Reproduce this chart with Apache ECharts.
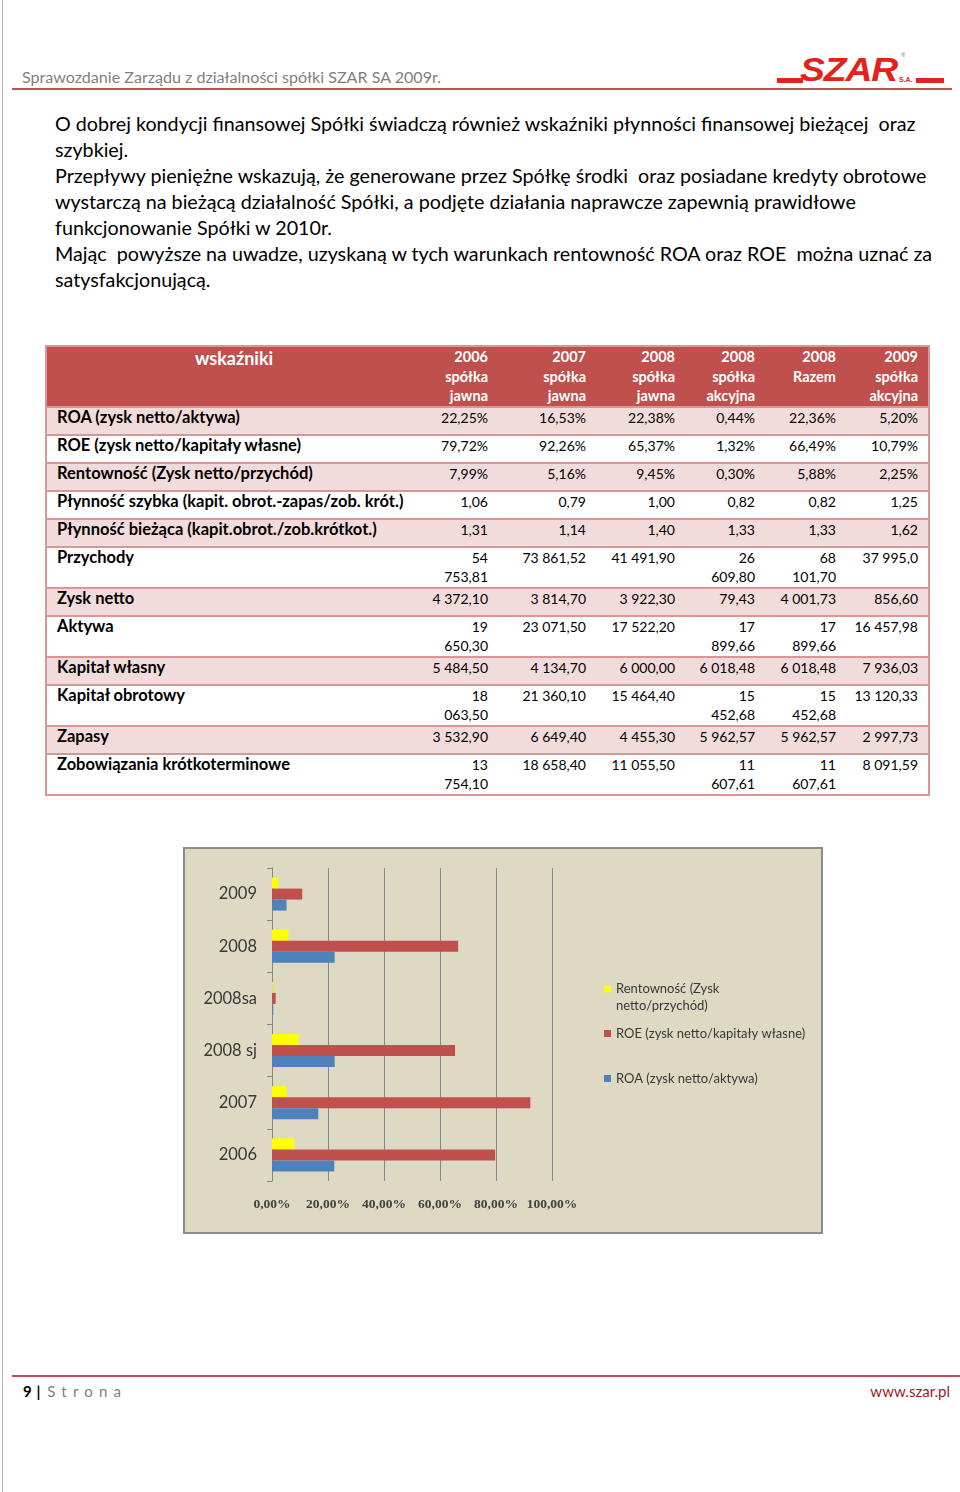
<!DOCTYPE html>
<html lang="pl">
<head>
<meta charset="utf-8">
<script src="https://cdn.jsdelivr.net/npm/echarts/dist/echarts.min.js"></script>
<style>
  html, body { margin:0; padding:0; background:#fff; }
  body { width:960px; height:1492px; position:relative; overflow:hidden; font-family:Lato, "Noto Sans", sans-serif; }
  .abs { position:absolute; }
  #pageEdge { left:2px; top:0; width:1px; height:1492px; background:#b4b4b4; }
  #hdrText { left:22px; top:67px; font-size:16px; line-height:20px; color:#7f7f7f; white-space:nowrap; }
  #hdrLine { left:12px; top:88px; width:940px; height:2px; background:#c0504d; }
  #para { left:55px; top:111px; font-size:18px; line-height:26px; color:#000; white-space:pre; }
  #para span { display:inline-block; }
  #tbl { position:absolute; left:45px; top:345px; width:883px; border-collapse:collapse; table-layout:fixed; font-family:Lato, sans-serif; border:2px solid #d99694; }
  #tbl th { background:#c0504d; color:#fff; font-weight:bold; font-size:14.5px; line-height:19.5px; text-align:right; padding:0 7px 0 3px; vertical-align:top; }
  #tbl th.first { text-align:center; font-size:18px; padding-top:2px; }
  #tbl th.last, #tbl td.last { padding-right:10px; }
  #tbl td { font-size:14px; line-height:19px; padding:0 7px 7px 3px; text-align:right; vertical-align:top; border-top:2px solid #d99694; color:#000; }
  #tbl td.lab { text-align:left; padding-left:10px; font-weight:bold; font-size:16.5px; }
  #tbl td.narrow { padding-left:13px; }
  #tbl td.narrow2 { padding-left:14px; }
  #tbl tr.pink td { background:#f2dcdb; }
  #chartBox { left:183px; top:847px; width:636px; height:383px; border:2px solid #8c8c8c; background:#ddd9c3; }
  #ftrLine { left:12px; top:1375px; width:948px; height:2px; background:#c0504d; }
  #ftrLeft { left:23px; top:1381px; font-size:15px; line-height:20px; white-space:nowrap; }
  #ftrRight { right:10px; top:1381px; font-size:15px; line-height:20px; color:#9e1b22; }
</style>
</head>
<body>
<div id="pageEdge" class="abs"></div>
<div id="hdrText" class="abs">Sprawozdanie Zarządu z działalności spółki SZAR SA 2009r.</div>
<div id="logo" class="abs" style="left:770px;top:50px;width:180px;height:40px;">
  <div class="abs" style="left:7px;top:28px;width:26px;height:5px;background:#e2231a;"></div>
  <div class="abs" style="left:30px;top:3px;font:italic bold 33px 'Liberation Sans',sans-serif;line-height:33px;color:#e2231a;transform:scaleX(1.13);transform-origin:left top;letter-spacing:-1px;">SZAR</div>
  <div class="abs" style="left:131px;top:2px;font:bold 6px/6px 'Liberation Sans',sans-serif;color:#999;">®</div>
  <div class="abs" style="left:129px;top:26px;font:bold 7px 'Liberation Sans',sans-serif;color:#e2231a;">S.A.</div>
  <div class="abs" style="left:146px;top:28px;width:28px;height:5px;background:#e2231a;"></div>
</div>
<div id="hdrLine" class="abs"></div>

<div id="para" class="abs"></div>

<table id="tbl"></table>

<div id="chartBox" class="abs"></div>

<div id="ftrLine" class="abs"></div>
<div id="ftrLeft" class="abs"><b>9</b> <b style="margin-left:1px;">|</b> <span style="color:#7f7f7f;letter-spacing:6.2px;margin-left:3px;">Strona</span></div>
<div id="ftrRight" class="abs">www.szar.pl</div>

<script>
// ---------- text ----------
const paragraphLines = [
  "O dobrej kondycji finansowej Spółki świadczą również wskaźniki płynności finansowej bieżącej  oraz",
  "szybkiej.",
  "Przepływy pieniężne wskazują, że generowane przez Spółkę środki  oraz posiadane kredyty obrotowe",
  "wystarczą na bieżącą działalność Spółki, a podjęte działania naprawcze zapewnią prawidłowe",
  "funkcjonowanie Spółki w 2010r.",
  "Mając  powyższe na uwadze, uzyskaną w tych warunkach rentowność ROA oraz ROE  można uznać za",
  "satysfakcjonującą."
];

// ---------- table data ----------
const tableHeaderFirst = "wskaźniki";
const tableColumns = [
  ["2006", "spółka", "jawna"],
  ["2007", "spółka", "jawna"],
  ["2008", "spółka", "jawna"],
  ["2008", "spółka", "akcyjna"],
  ["2008", "Razem", ""],
  ["2009", "spółka", "akcyjna"]
];
const rowLabels = [
  "ROA (zysk netto/aktywa)",
  "ROE (zysk netto/kapitały własne)",
  "Rentowność (Zysk netto/przychód)",
  "Płynność szybka (kapit. obrot.-zapas/zob. krót.)",
  "Płynność bieżąca (kapit.obrot./zob.krótkot.)",
  "Przychody",
  "Zysk netto",
  "Aktywa",
  "Kapitał własny",
  "Kapitał obrotowy",
  "Zapasy",
  "Zobowiązania krótkoterminowe"
];
const rowROA        = ["22,25%", "16,53%", "22,38%", "0,44%", "22,36%", "5,20%"];
const rowROE        = ["79,72%", "92,26%", "65,37%", "1,32%", "66,49%", "10,79%"];
const rowRent       = ["7,99%", "5,16%", "9,45%", "0,30%", "5,88%", "2,25%"];
const rowQuick      = ["1,06", "0,79", "1,00", "0,82", "0,82", "1,25"];
const rowCurrent    = ["1,31", "1,14", "1,40", "1,33", "1,33", "1,62"];
const rowRevenue    = ["54 753,81", "73 861,52", "41 491,90", "26 609,80", "68 101,70", "37 995,0"];
const rowNetProfit  = ["4 372,10", "3 814,70", "3 922,30", "79,43", "4 001,73", "856,60"];
const rowAssets     = ["19 650,30", "23 071,50", "17 522,20", "17 899,66", "17 899,66", "16 457,98"];
const rowEquity     = ["5 484,50", "4 134,70", "6 000,00", "6 018,48", "6 018,48", "7 936,03"];
const rowWorkCap    = ["18 063,50", "21 360,10", "15 464,40", "15 452,68", "15 452,68", "13 120,33"];
const rowInventory  = ["3 532,90", "6 649,40", "4 455,30", "5 962,57", "5 962,57", "2 997,73"];
const rowLiabil     = ["13 754,10", "18 658,40", "11 055,50", "11 607,61", "11 607,61", "8 091,59"];
const tableRows = [rowROA, rowROE, rowRent, rowQuick, rowCurrent, rowRevenue, rowNetProfit,
                   rowAssets, rowEquity, rowWorkCap, rowInventory, rowLiabil];

// ---------- chart data ----------
const chartCategories = ["2006", "2007", "2008 sj", "2008sa", "2008", "2009"];
const seriesRentName = "Rentowność (Zysk netto/przychód)";
const seriesROEName  = "ROE (zysk netto/kapitały własne)";
const seriesROAName  = "ROA (zysk netto/aktywa)";
const rentValues = [7.99, 5.16, 9.45, 0.30, 5.88, 2.25];
const roeValues  = [79.72, 92.26, 65.37, 1.32, 66.49, 10.79];
const roaValues  = [22.25, 16.53, 22.38, 0.44, 22.36, 5.20];
const xTickValues = [0, 20, 40, 60, 80, 100];

// ---------- build paragraph ----------
const para = document.getElementById('para');
paragraphLines.forEach((l, i) => {
  const s = document.createElement('span');
  s.textContent = l;
  para.appendChild(s);
  if (i < paragraphLines.length - 1) para.appendChild(document.createElement('br'));
});
(function () {
  const ref = para.children[4];
  const w = ref.getBoundingClientRect().width;
  const fs = parseFloat(getComputedStyle(para).fontSize);
  para.style.fontSize = (fs * 872 / w).toFixed(2) + 'px';
  const h = document.getElementById('hdrText');
  const hw = h.getBoundingClientRect().width;
  const hfs = parseFloat(getComputedStyle(h).fontSize);
  h.style.fontSize = (hfs * 419 / hw).toFixed(2) + 'px';
})();

// ---------- build table ----------
const tbl = document.getElementById('tbl');
const colWidths = [379, 70, 98, 89, 80, 81, 86];
const cg = document.createElement('colgroup');
colWidths.forEach(w => { const c = document.createElement('col'); c.style.width = w + 'px'; cg.appendChild(c); });
tbl.appendChild(cg);
const hr = document.createElement('tr');
const th0 = document.createElement('th'); th0.className = 'first'; th0.textContent = tableHeaderFirst; hr.appendChild(th0);
tableColumns.forEach((c, j) => {
  const th = document.createElement('th');
  if (j === tableColumns.length - 1) th.className = 'last';
  th.innerHTML = c.map(t => t || '&nbsp;').join('<br>');
  hr.appendChild(th);
});
tbl.appendChild(hr);
tableRows.forEach((vals, i) => {
  const tr = document.createElement('tr');
  if (i % 2 === 0) tr.className = 'pink';
  const lab = document.createElement('td'); lab.className = 'lab'; lab.textContent = rowLabels[i]; tr.appendChild(lab);
  vals.forEach((v, j) => {
    const td = document.createElement('td');
    if (j === 3) td.className = 'narrow';
    if (j === 4) td.className = 'narrow2';
    if (j === vals.length - 1) td.className = 'last';
    td.textContent = v;
    tr.appendChild(td);
  });
  tbl.appendChild(tr);
});
Array.from(tbl.querySelectorAll('tr')).slice(1).forEach(tr => {
  if (tr.getBoundingClientRect().height > 36) tr.querySelectorAll('td').forEach(td => td.style.paddingBottom = '1px');
});

// ---------- chart ----------
const chart = echarts.init(document.getElementById('chartBox'), null, { renderer: 'canvas' });
const legendText = { fontFamily: 'Lato', fontSize: 13, color: '#383838', lineHeight: 17 };
chart.setOption({
  animation: false,
  backgroundColor: 'transparent',
  grid: { left: 87, right: 269, top: 19, bottom: 51 },
  xAxis: {
    type: 'value', min: xTickValues[0], max: xTickValues[xTickValues.length - 1], interval: 20,
    axisLine: { show: false }, axisTick: { show: false },
    splitLine: { show: true, lineStyle: { color: '#878787', width: 1 } },
    axisLabel: {
      formatter: v => v.toFixed(2).replace('.', ',') + '%',
      fontFamily: 'Liberation Serif', fontWeight: 'bold', fontSize: 13.5, color: '#404040', margin: 17
    }
  },
  yAxis: {
    type: 'category', data: chartCategories,
    axisLine: { show: true, lineStyle: { color: '#878787', width: 1 } },
    axisTick: { show: true, length: 5, lineStyle: { color: '#878787' } },
    axisLabel: { fontFamily: 'Lato', fontSize: 16.5, color: '#383838', margin: 15 }
  },
  legend: [
    { data: [seriesRentName], left: 419, top: 131, padding: 0, selectedMode: false, itemWidth: 7, itemHeight: 23,
      icon: 'path://M0,0L7,0L7,7L0,7Z M7,23L7,23',
      formatter: () => 'Rentowność (Zysk\nnetto/przychód)', textStyle: legendText },
    { data: [seriesROEName], left: 419, top: 176, padding: 0, selectedMode: false, itemWidth: 7, itemHeight: 7,
      icon: 'rect', textStyle: legendText },
    { data: [seriesROAName], left: 419, top: 221, padding: 0, selectedMode: false, itemWidth: 7, itemHeight: 7,
      icon: 'rect', textStyle: legendText }
  ],
  series: [
    { name: seriesRentName, type: 'bar', data: rentValues, barWidth: 11, barGap: '0%', itemStyle: { color: '#ffff00' } },
    { name: seriesROEName,  type: 'bar', data: roeValues,  barWidth: 11, barGap: '0%', itemStyle: { color: '#c0504d' } },
    { name: seriesROAName,  type: 'bar', data: roaValues,  barWidth: 11, barGap: '0%', itemStyle: { color: '#4f81bd' } }
  ]
});
</script>
</body>
</html>
